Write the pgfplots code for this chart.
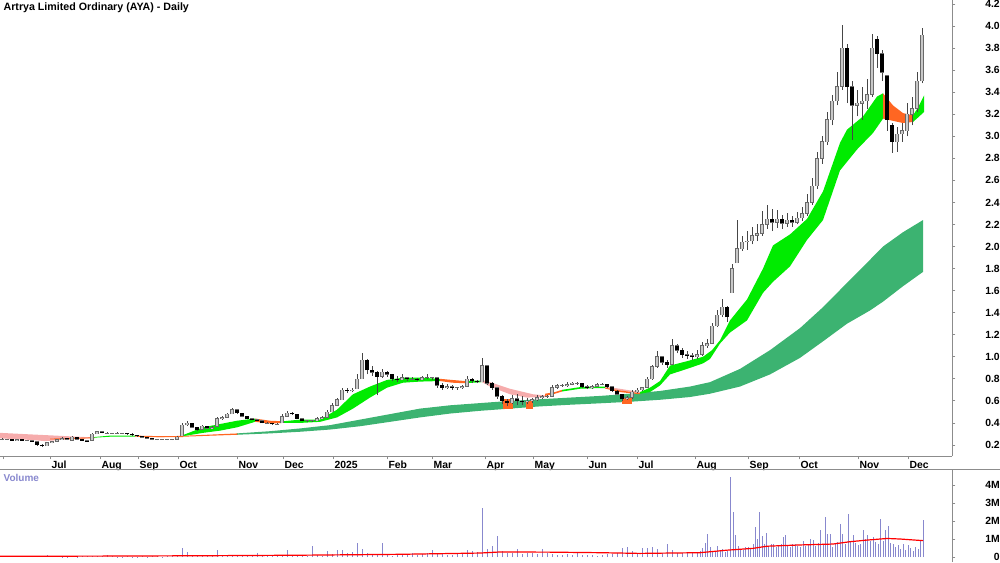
\documentclass[border=0pt]{standalone}
\usepackage{fontspec}
\setmainfont{Liberation Sans}
\usepackage{pgfplots}
\pgfplotsset{compat=1.18}
\usepackage{pgfplotstable}

\definecolor{stgreen}{RGB}{0,235,0}
\definecolor{storange}{RGB}{255,102,34}
\definecolor{stpink}{RGB}{246,172,172}
\definecolor{ltgreen}{RGB}{60,179,113}
\definecolor{volblue}{RGB}{136,136,206}
\definecolor{axgray}{RGB}{140,140,140}
\definecolor{upbody}{RGB}{200,200,200}
\definecolor{upedge}{RGB}{105,105,105}
\definecolor{wick}{RGB}{70,70,70}

\pgfplotstableread{
x o h l c
2 .25 .26 .245 .25
7 .25 .255 .245 .25
12 .25 .25 .24 .24
17 .24 .255 .24 .25
22 .25 .25 .24 .24
27 .24 .245 .235 .24
32 .24 .24 .225 .23
37 .23 .23 .195 .20
42 .20 .205 .18 .19
47 .19 .225 .19 .22
52 .22 .235 .215 .23
57 .23 .255 .225 .25
62 .25 .27 .245 .26
67 .26 .265 .245 .25
72 .24 .285 .24 .27
77 .27 .27 .245 .25
82 .25 .255 .235 .24
87 .24 .24 .225 .23
92 .24 .31 .24 .30
97 .30 .33 .30 .32
102 .32 .325 .305 .31
107 .31 .315 .305 .31
112 .31 .31 .31 .31
117 .31 .315 .305 .31
122 .31 .31 .305 .31
127 .31 .31 .295 .30
132 .30 .305 .285 .29
137 .29 .29 .275 .28
142 .28 .285 .265 .27
147 .27 .27 .255 .26
152 .26 .26 .245 .25
157 .25 .255 .245 .25
162 .25 .25 .25 .25
167 .25 .255 .245 .25
172 .25 .255 .245 .25
177 .25 .28 .25 .27
182 .28 .40 .28 .38
187 .38 .415 .37 .40
192 .40 .40 .355 .36
197 .36 .365 .33 .34
202 .34 .38 .34 .37
207 .37 .375 .345 .35
212 .35 .37 .345 .36
217 .37 .45 .37 .44
222 .44 .46 .43 .45
227 .45 .49 .45 .48
232 .48 .535 .48 .52
237 .52 .525 .48 .49
242 .49 .49 .45 .46
247 .46 .465 .435 .44
252 .44 .445 .425 .43
257 .43 .435 .415 .42
262 .42 .42 .395 .40
267 .40 .41 .39 .40
272 .40 .40 .385 .39
277 .39 .40 .385 .39
282 .40 .48 .40 .46
287 .46 .505 .455 .49
292 .49 .495 .47 .48
297 .48 .48 .435 .44
302 .44 .445 .415 .42
307 .42 .43 .41 .42
312 .42 .425 .41 .42
317 .42 .45 .415 .44
322 .44 .46 .435 .45
327 .45 .52 .45 .50
332 .50 .58 .50 .56
337 .56 .63 .55 .61
342 .61 .72 .61 .70
347 .70 .72 .67 .69
352 .69 .72 .68 .70
357 .71 .84 .71 .80
362 .80 1.03 .80 .97
367 .97 .98 .84 .88
372 .88 .92 .83 .86
377 .86 .87 .65 .82
382 .82 .89 .81 .86
387 .86 .87 .82 .84
392 .84 .845 .78 .80
397 .80 .83 .77 .79
402 .79 .84 .785 .81
407 .81 .82 .78 .80
412 .80 .815 .79 .80
417 .80 .805 .78 .79
422 .79 .83 .79 .81
427 .81 .84 .80 .81
432 .81 .82 .79 .81
437 .81 .81 .72 .74
442 .74 .76 .70 .72
447 .72 .75 .71 .73
452 .73 .74 .70 .72
457 .72 .73 .70 .72
462 .72 .745 .71 .73
467 .73 .83 .73 .80
472 .80 .805 .76 .78
477 .78 .79 .76 .77
482 .77 .99 .77 .92
487 .92 .93 .74 .76
492 .76 .77 .70 .72
497 .72 .72 .62 .64
502 .64 .65 .57 .60
507 .60 .62 .55 .58
512 .58 .65 .57 .62
517 .62 .66 .56 .60
522 .60 .64 .56 .59
527 .59 .63 .57 .60
532 .60 .63 .58 .61
537 .61 .65 .60 .63
542 .63 .655 .62 .64
547 .64 .655 .63 .64
552 .64 .74 .64 .72
557 .72 .75 .71 .74
562 .74 .755 .73 .74
567 .74 .77 .73 .75
572 .75 .775 .74 .76
577 .76 .77 .745 .76
582 .76 .765 .72 .73
587 .73 .74 .71 .72
592 .72 .74 .71 .73
597 .73 .76 .725 .75
602 .75 .765 .74 .75
607 .75 .755 .72 .73
612 .73 .735 .68 .69
617 .69 .70 .65 .66
622 .66 .665 .60 .62
627 .62 .645 .61 .63
632 .63 .70 .62 .68
637 .68 .72 .67 .70
642 .70 .73 .69 .72
647 .72 .82 .72 .80
652 .80 .93 .79 .91
657 .91 1.05 .90 1.00
662 1.00 1.01 .93 .95
667 .95 .97 .90 .93
672 .93 1.16 .93 1.10
677 1.10 1.12 1.03 1.06
682 1.06 1.08 .99 1.02
687 1.02 1.05 .98 1.01
692 1.01 1.03 .97 1.00
697 1.00 1.06 .98 1.02
702 1.02 1.13 1.01 1.10
707 1.10 1.16 1.08 1.12
712 1.12 1.31 1.12 1.28
717 1.28 1.42 1.27 1.38
722 1.38 1.52 1.36 1.45
727 1.45 1.46 1.32 1.36
732 1.58 1.84 1.58 1.80
737 1.85 2.24 1.85 1.98
742 1.98 2.10 1.96 2.04
747 2.04 2.14 1.97 2.05
752 2.05 2.18 2.02 2.10
757 2.10 2.20 2.05 2.12
762 2.12 2.32 2.10 2.20
767 2.20 2.38 2.16 2.25
772 2.25 2.34 2.14 2.22
777 2.22 2.33 2.17 2.25
782 2.25 2.29 2.16 2.21
787 2.21 2.30 2.18 2.24
792 2.24 2.28 2.18 2.22
797 2.22 2.31 2.20 2.26
802 2.26 2.36 2.23 2.30
807 2.30 2.48 2.28 2.40
812 2.40 2.62 2.38 2.55
817 2.55 2.86 2.52 2.80
822 2.80 3.00 2.75 2.95
827 2.95 3.22 2.92 3.15
832 3.15 3.37 3.10 3.32
837 3.32 3.58 3.28 3.45
842 3.45 4.01 3.42 3.80
847 3.80 3.84 3.30 3.45
852 3.45 3.50 2.97 3.28
857 3.28 3.42 3.18 3.30
862 3.30 3.45 3.15 3.32
867 3.32 3.52 3.25 3.38
872 3.38 3.93 3.36 3.80
877 3.88 3.91 3.62 3.75
882 3.75 3.78 3.50 3.58
887 3.55 3.56 3.05 3.15
892 3.10 3.12 2.85 2.95
897 2.95 3.08 2.86 3.02
902 3.02 3.12 2.95 3.05
907 3.05 3.30 3.00 3.20
912 3.20 3.36 3.10 3.25
917 3.25 3.58 3.22 3.50
922 3.50 3.98 3.48 3.92
}\candles

\pgfplotstableread{
x v
2 .05
7 .03
12 .04
17 .03
22 .05
27 .04
32 .03
37 .06
42 .05
47 .10
52 .04
57 .03
62 .02
67 .02
72 .03
77 .02
82 .03
87 .04
92 .05
97 .03
102 .04
107 .09
112 .03
117 .02
122 .02
127 .03
132 .02
137 .02
142 .03
147 .02
152 .08
157 .04
162 .02
167 .03
172 .05
177 .10
182 .48
187 .27
192 .08
197 .05
202 .06
207 .04
212 .06
217 .37
222 .12
227 .05
232 .06
237 .04
242 .04
247 .05
252 .03
257 .20
262 .08
267 .04
272 .04
277 .06
282 .12
287 .37
292 .08
297 .06
302 .05
307 .08
312 .61
317 .10
322 .08
327 .32
332 .15
337 .40
342 .38
347 .25
352 .30
357 .80
362 .42
367 .25
372 .15
377 .12
382 .76
387 .10
392 .08
397 .12
402 .16
407 .10
412 .20
417 .12
422 .18
427 .22
432 .40
437 .25
442 .15
447 .12
452 .10
457 .15
462 .20
467 .37
472 .35
477 .30
482 2.70
487 .44
492 .63
497 1.17
502 .35
507 .25
512 .20
517 .44
522 .15
527 .25
532 .20
537 .18
542 .44
547 .20
552 .15
557 .12
562 .10
567 .15
572 .12
577 .27
582 .10
587 .12
592 .10
597 .08
602 .12
607 .15
612 .18
617 .22
622 .50
627 .57
632 .35
637 .25
642 .50
647 .50
652 .55
657 .45
662 .25
667 .72
672 .40
677 .20
682 .25
687 .20
692 .22
697 .30
700 .35
702.5 .50
705 .80
707.5 1.28
710 .57
712.5 .30
715 .35
717.5 .63
720 .40
722.5 .45
725 .30
727.5 .35
730.5 4.43
733 2.52
735.5 1.22
738 .60
740.5 .45
743 .40
745.5 .55
748 .57
750.5 .50
753 .72
755.5 1.65
757.5 1.00
759.5 2.52
762 1.17
764 .70
766 1.35
768.5 .60
771 .75
773.5 .72
776 .55
778.5 .60
781 .70
783 1.13
785 1.22
787.5 .60
790 .55
792.5 .75
795 .70
797.5 .60
800 .55
803 .90
805.5 .60
808 .70
810.5 1.02
813 .95
815.5 .60
818 .80
820.5 1.48
823 .70
825 2.24
827.5 1.30
830 1.28
832.5 .55
835 .70
837.5 .85
840 1.83
842.5 1.30
845 .75
848 2.39
850.5 .90
853 1.22
855.5 .80
858 .65
860.5 .75
863 1.50
865.5 1.00
867.5 1.20
870 .90
873 1.13
875.5 .85
878 .70
880.5 2.09
883 .90
885.5 1.50
888 1.72
890.5 .80
893 .70
895.5 .55
898 .65
900.5 .45
903 .70
905.5 .40
908 .65
910.5 .50
913 .35
915.5 .55
918 .45
920.5 .90
923.5 2.04
}\volume

\begin{document}
\begin{tikzpicture}[x=1pt,y=1pt]
\pgfplotsset{
  chartbase/.style={
    scale only axis, width=714pt,
    xmin=0, xmax=952,
    axis y line*=right,
    axis line style={axgray, line width=0.75pt},
    tick style={axgray, line width=0.6pt},
    tick align=outside, major tick length=2.5pt,
    ticklabel style={font=\fontsize{7.8}{8}\selectfont\bfseries, text=black},
    yticklabel style={anchor=east, inner sep=0pt, xshift=33.5pt},
    /pgf/number format/assume math mode=true,
  }
}
% ---------------- price panel ----------------
\begin{axis}[chartbase,
  at={(0pt,0pt)}, anchor=north west,
  height=342pt,
  ymin=0.1, ymax=4.236,
  axis x line*=bottom,
  xtick={3,50,100,138,178,237,283,333,387,432,485,533,587,637,695,748,799,858,908},
  xticklabels={,Jul,Aug,Sep,Oct,Nov,Dec,2025,Feb,Mar,Apr,May,Jun,Jul,Aug,Sep,Oct,Nov,Dec},
  xticklabel style={anchor=north west, xshift=0pt, inner sep=1pt},
  ytick={0.2,0.4,0.6,0.8,1.0,1.2,1.4,1.6,1.8,2.0,2.2,2.4,2.6,2.8,3.0,3.2,3.4,3.6,3.8,4.0,4.2},
  yticklabels={0.2,0.4,0.6,0.8,1.0,1.2,1.4,1.6,1.8,2.0,2.2,2.4,2.6,2.8,3.0,3.2,3.4,3.6,3.8,4.0,4.2},
]
% long-term ribbon
\addplot[fill=storange, draw=none] coordinates {(140,0.276)(180,0.282)(210,0.294)(238,0.305)(238,0.293)(210,0.284)(180,0.274)(140,0.270)} -- cycle;
\addplot[fill=ltgreen, draw=none] coordinates {
(237,0.305)(270,0.325)(300,0.350)(330,0.380)(360,0.430)(390,0.480)(420,0.530)(450,0.560)(480,0.580)(510,0.600)(540,0.615)(570,0.630)(600,0.645)(630,0.665)(660,0.690)(690,0.730)(710,0.770)(740,0.890)(770,1.060)(800,1.260)(823,1.450)(847,1.670)(870,1.880)(883,2.000)(903,2.130)(923,2.240)
(923,1.770)(903,1.640)(883,1.500)(870,1.420)(847,1.300)(823,1.140)(800,0.990)(770,0.840)(740,0.730)(710,0.665)(690,0.635)(660,0.610)(630,0.592)(600,0.578)(570,0.565)(540,0.550)(510,0.530)(480,0.510)(450,0.485)(420,0.450)(390,0.410)(360,0.370)(330,0.340)(300,0.320)(270,0.305)(237,0.293)} -- cycle;
% short-term ribbon
\addplot[fill=stpink, draw=none] coordinates {(0,0.31)(33,0.295)(67,0.28)(90,0.27)(90,0.262)(67,0.25)(45,0.235)(33,0.245)(0,0.26)} -- cycle;
\addplot[fill=storange, draw=none] coordinates {(50,0.258)(70,0.262)(95,0.27)(95,0.262)(70,0.254)(50,0.25)} -- cycle;
\addplot[fill=stgreen, draw=none] coordinates {(92,0.27)(110,0.285)(135,0.285)(135,0.275)(110,0.275)(92,0.265)} -- cycle;
\addplot[fill=storange, draw=none] coordinates {(135,0.285)(160,0.28)(183,0.28)(183,0.272)(160,0.272)(135,0.275)} -- cycle;
\addplot[fill=stgreen, draw=none] coordinates {(183,0.29)(203,0.36)(220,0.39)(237,0.42)(255,0.44)(255,0.41)(237,0.36)(220,0.33)(203,0.31)(183,0.28)} -- cycle;
\addplot[fill=storange, draw=none] coordinates {(255,0.44)(270,0.42)(283,0.415)(283,0.40)(270,0.395)(255,0.41)} -- cycle;
\addplot[fill=stgreen, draw=none] coordinates {(283,0.415)(300,0.43)(320,0.43)(337,0.52)(353,0.66)(370,0.73)(387,0.79)(403,0.81)(420,0.81)(440,0.80)(440,0.78)(420,0.775)(403,0.765)(387,0.72)(370,0.63)(353,0.53)(337,0.45)(320,0.41)(300,0.40)(283,0.40)} -- cycle;
\addplot[fill=storange, draw=none] coordinates {(440,0.80)(452,0.79)(465,0.78)(465,0.76)(452,0.765)(440,0.78)} -- cycle;
\addplot[fill=stgreen, draw=none] coordinates {(465,0.78)(482,0.785)(482,0.77)(465,0.76)} -- cycle;
\addplot[fill=stpink, draw=none] coordinates {(482,0.79)(490,0.77)(510,0.71)(533,0.66)(545,0.65)(545,0.635)(527,0.63)(510,0.66)(490,0.73)(482,0.77)} -- cycle;
\addplot[fill=storange, draw=none] coordinates {(503,0.62)(513,0.62)(513,0.53)(503,0.53)} -- cycle;
\addplot[fill=storange, draw=none] coordinates {(526,0.60)(533,0.60)(533,0.53)(526,0.53)} -- cycle;
\addplot[fill=storange, draw=none] coordinates {(545,0.665)(555,0.68)(562,0.70)(562,0.685)(555,0.665)(545,0.645)} -- cycle;
\addplot[fill=stgreen, draw=none] coordinates {(562,0.70)(580,0.725)(595,0.73)(605,0.73)(605,0.715)(595,0.715)(580,0.71)(562,0.685)} -- cycle;
\addplot[fill=stpink, draw=none] coordinates {(605,0.73)(620,0.71)(640,0.68)(640,0.67)(620,0.695)(605,0.72)} -- cycle;
\addplot[fill=storange, draw=none] coordinates {(605,0.72)(620,0.695)(640,0.67)(640,0.66)(620,0.68)(605,0.712)} -- cycle;
\addplot[fill=storange, draw=none] coordinates {(622,0.63)(632,0.63)(632,0.57)(622,0.57)} -- cycle;
\addplot[fill=stgreen, draw=none] coordinates {
(640,0.68)(650,0.72)(660,0.78)(670,0.92)(687,0.96)(703,1.00)(712,1.06)(720,1.15)(730,1.33)(747,1.52)(763,1.80)(773,2.01)(790,2.11)(807,2.25)(823,2.50)(840,2.94)(847,3.06)(863,3.18)(877,3.36)(883,3.39)
(883,3.16)(873,3.03)(857,2.88)(840,2.69)(823,2.24)(807,2.06)(790,1.82)(773,1.68)(763,1.58)(747,1.33)(730,1.22)(720,1.12)(710,0.98)(703,0.94)(687,0.89)(670,0.84)(660,0.74)(650,0.68)(640,0.665)} -- cycle;
\addplot[fill=storange, draw=none] coordinates {(883,3.39)(893,3.28)(903,3.21)(913,3.19)(913,3.13)(903,3.12)(893,3.14)(883,3.16)} -- cycle;
\addplot[fill=stgreen, draw=none] coordinates {(913,3.19)(918,3.26)(924,3.37)(924,3.22)(918,3.17)(913,3.13)} -- cycle;
% candles: wicks
\addplot[draw=none, mark=none,
  error bars/.cd, y dir=plus, y explicit, error mark=none,
  error bar style={draw=wick, line width=0.6pt}]
  table[x=x, y=l, y error plus expr={\thisrow{h}-\thisrow{l}}] {\candles};
% bodies (all, up style)
\addplot[draw=none, mark=none,
  error bars/.cd, y dir=plus, y explicit, error mark=none,
  error bar style={draw=upedge, line width=2.3pt}]
  table[x=x, y expr={min(\thisrow{o},\thisrow{c})-0.003}, y error plus expr={abs(\thisrow{c}-\thisrow{o})+0.006}] {\candles};
\addplot[draw=none, mark=none,
  restrict expr to domain={\thisrow{c}-\thisrow{o}}{0.0001:100},
  error bars/.cd, y dir=plus, y explicit, error mark=none,
  error bar style={draw=upbody, line width=0.9pt}]
  table[x=x, y expr={\thisrow{o}+0.002}, y error plus expr={\thisrow{c}-\thisrow{o}-0.004}] {\candles};
% down bodies
\addplot[draw=none, mark=none,
  restrict expr to domain={\thisrow{o}-\thisrow{c}}{0.0001:100},
  error bars/.cd, y dir=plus, y explicit, error mark=none,
  error bar style={draw=black, line width=2.3pt}]
  table[x=x, y=c, y error plus expr={\thisrow{o}-\thisrow{c}}] {\candles};
\end{axis}
% ---------------- volume panel ----------------
\begin{axis}[chartbase,
  at={(0pt,-351.75pt)}, anchor=north west,
  height=69.75pt,
  ymin=-0.278, ymax=4.889,
  axis x line=none,
  ytick={0,1,2,3,4},
  yticklabels={0,1M,2M,3M,4M},
]
\addplot[ycomb, draw=volblue, line width=0.75pt, mark=none] table[x=x, y=v] {\volume};
\addplot[draw=red, line width=0.9pt, mark=none] coordinates {(0,0.04)(100,0.05)(200,0.07)(300,0.10)(400,0.15)(480,0.22)(500,0.28)(550,0.27)(600,0.24)(640,0.20)(700,0.24)(727,0.38)(753,0.48)(767,0.60)(800,0.67)(833,0.72)(850,0.85)(867,0.94)(887,1.03)(900,1.00)(923,0.91)};
\end{axis}
\draw[axgray, line width=0.75pt] (0pt,-351.75pt) -- (750pt,-351.75pt);
\node[anchor=west, inner sep=0pt, font=\fontsize{8}{9}\selectfont\bfseries] at (2.5pt,-6pt) {Artrya Limited Ordinary (AYA) - Daily};
\node[anchor=west, inner sep=0pt, text=volblue, font=\fontsize{7.5}{8}\selectfont\bfseries] at (2.5pt,-358.5pt) {Volume};
\pgfresetboundingbox
\path[use as bounding box] (0pt,0pt) rectangle (750pt,-421.5pt);
\end{tikzpicture}
\end{document}
